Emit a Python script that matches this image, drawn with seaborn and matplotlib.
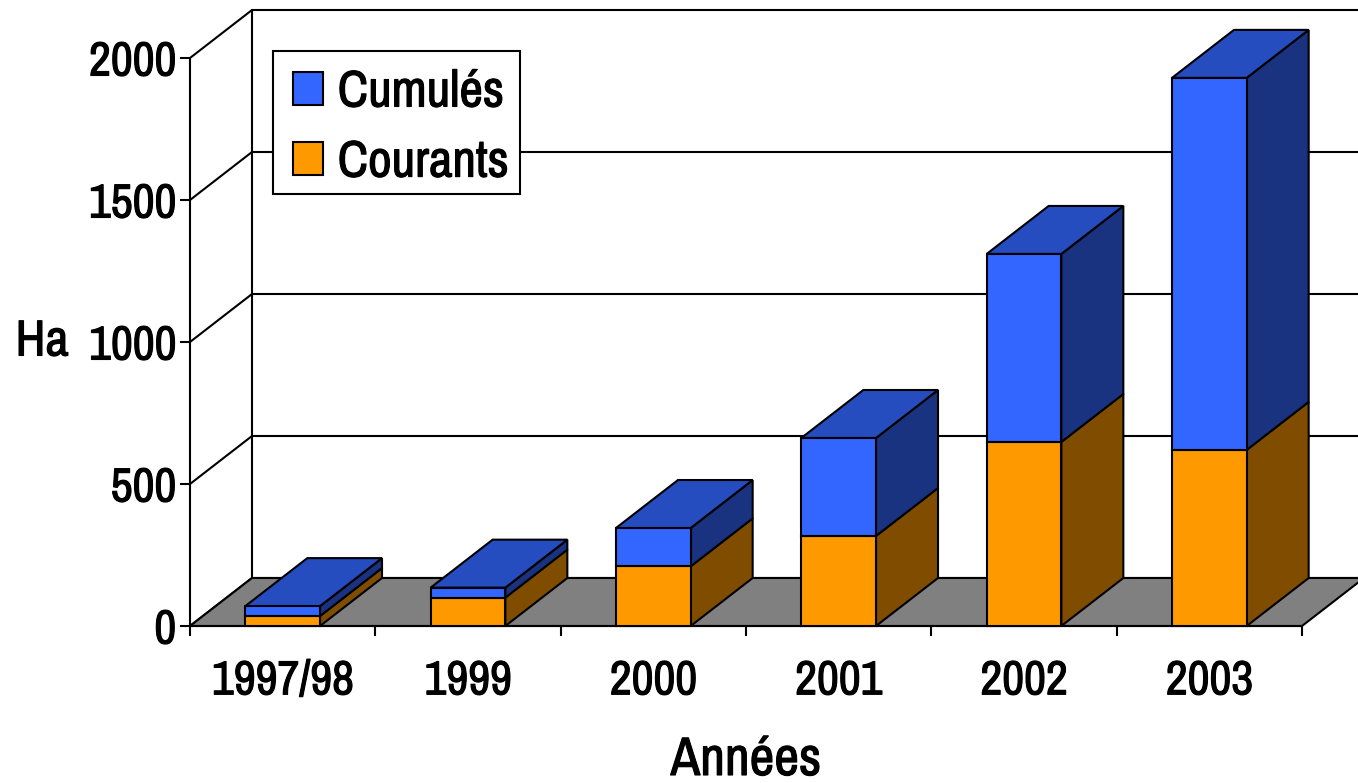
import matplotlib
matplotlib.use('Agg')
import matplotlib.pyplot as plt
import matplotlib.patheffects as pe
from matplotlib.patches import Polygon, Patch, Rectangle
import pandas as pd
import seaborn as sns

annees = ['1997/98', '1999', '2000', '2001', '2002', '2003']
courants = [35, 100, 210, 317, 648, 620]
cumules = [35, 35, 135, 345, 662, 1310]

BLEU = '#3366FF'
BLEU_TOP = '#264DBF'
BLEU_COTE = '#1A3380'
ORANGE = '#FF9900'
ORANGE_COTE = '#804D00'
LW = 1.5
FS = 34.5
LARGEUR = 0.403
GRAS = [pe.withStroke(linewidth=0.8, foreground='black')]

sns.set_theme(style='white')
plt.rcParams['font.family'] = ['Archivo Narrow', 'Liberation Sans', 'DejaVu Sans']
plt.rcParams['text.color'] = 'black'
plt.rcParams['xtick.color'] = 'black'
plt.rcParams['ytick.color'] = 'black'

W, H = 1358, 783
fig = plt.figure(figsize=(W / 100, H / 100), dpi=100)
ax = fig.add_axes([190 / W, 1 - 626 / H, (1302 - 190) / W, (626 - 58) / H])

df = pd.DataFrame({'annee': annees, 'courants': courants, 'cumules': cumules})
sns.barplot(data=df, x='annee', y='courants', color=ORANGE, width=LARGEUR, saturation=1,
            edgecolor='black', linewidth=LW, zorder=5, clip_on=False, ax=ax)
sns.barplot(data=df, x='annee', y='cumules', bottom=df['courants'], color=BLEU, width=LARGEUR,
            saturation=1, edgecolor='black', linewidth=LW, zorder=5, clip_on=False, ax=ax)

ax.set_xlim(-0.5, 5.5)
ax.set_ylim(0, 2000)

# profondeur 3D en unites de donnees
dx = 62 / (1302 - 190) * 6
dy = 48 / (626 - 58) * 2000
xmax_fig = 5.5 + dx


def poly(pts, fc, z=1, ec='black', lw=LW):
    ax.add_patch(Polygon(pts, closed=True, facecolor=fc, edgecolor=ec, linewidth=lw,
                         zorder=z, clip_on=False))


# sol
poly([(-0.5, 0), (5.5, 0), (5.5 + dx, dy), (-0.5 + dx, dy)], '#808080', z=2)

# murs et grille
for v in [0, 500, 1000, 1500, 2000]:
    ax.plot([-0.5, -0.5 + dx], [v, v + dy], color='black', lw=LW, zorder=1, clip_on=False)
    ax.plot([-0.5 + dx, xmax_fig], [v + dy, v + dy], color='black', lw=LW, zorder=1, clip_on=False)
ax.plot([-0.5 + dx, -0.5 + dx], [dy, 2000 + dy], color='black', lw=LW, zorder=1, clip_on=False)
ax.plot([-0.5, -0.5], [0, 2000], color='black', lw=LW, zorder=1, clip_on=False)

# faces laterales et dessus
w = LARGEUR / 2
for i, (a, b) in enumerate(zip(courants, cumules)):
    r = i + w
    poly([(r, 0), (r + dx, dy), (r + dx, a + dy), (r, a)], ORANGE_COTE, z=4)
    poly([(r, a), (r + dx, a + dy), (r + dx, a + b + dy), (r, a + b)], BLEU_COTE, z=4)
    poly([(i - w, a + b), (r, a + b), (r + dx, a + b + dy), (i - w + dx, a + b + dy)], BLEU_TOP, z=4)

sns.despine(ax=ax, left=True, bottom=True, top=True, right=True)
ax.patch.set_alpha(0)
ax.set_xticks([i - 0.5 for i in range(7)], minor=True)
ax.tick_params(axis='x', which='minor', length=7, width=LW, color='black', bottom=True, direction='out')
ax.tick_params(axis='x', which='major', length=0, pad=24, labelsize=FS, labelcolor='black')
ax.set_yticks([0, 500, 1000, 1500, 2000])
ax.tick_params(axis='y', length=7, width=LW, color='black', left=True, pad=3, labelsize=FS, labelcolor='black')
for t in ax.get_xticklabels() + ax.get_yticklabels():
    t.set_path_effects(GRAS)
ax.axhline(0, color='black', lw=LW, zorder=3, clip_on=False)

ax.set_xlabel('')
ax.set_ylabel('')
fig.text(42 / W, 1 - 342 / H, 'Ha', fontsize=36.5, ha='center', va='center', path_effects=GRAS)
fig.text(746 / W, 1 - 760 / H, 'Années', fontsize=39, ha='center', va='center', path_effects=GRAS)

# cadre de legende
fig.add_artist(Rectangle((273 / W, 1 - 194 / H), 247 / W, 143 / H, transform=fig.transFigure,
                         facecolor='white', edgecolor='black', linewidth=LW, zorder=9))
ax.set_zorder(1)
leg = fig.legend(handles=[Patch(facecolor=BLEU, edgecolor='black', linewidth=LW, label='Cumulés'),
                          Patch(facecolor=ORANGE, edgecolor='black', linewidth=LW, label='Courants')],
                 loc='upper left', bbox_to_anchor=(293 / W, 1 - 68.5 / H), bbox_transform=fig.transFigure,
                 prop={'size': 37}, frameon=False,
                 handlelength=0.59, handleheight=0.59, handletextpad=0.28, labelspacing=0.45,
                 borderpad=0, borderaxespad=0)
leg.set_zorder(10)
for t in leg.get_texts():
    t.set_path_effects(GRAS)

fig.savefig('out.png', dpi=100)
